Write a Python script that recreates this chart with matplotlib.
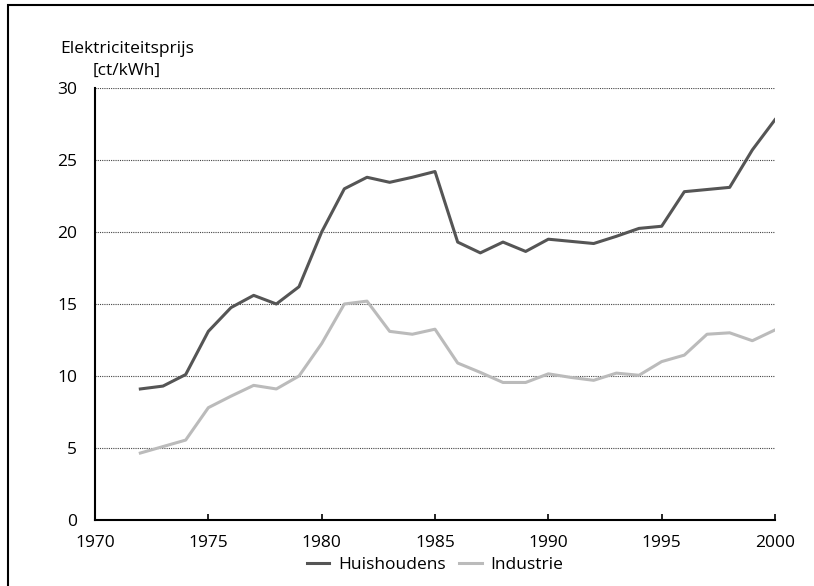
import matplotlib.pyplot as plt
from matplotlib.patches import Rectangle

years = list(range(1972, 2001))
huishoudens = [9.1, 9.3, 10.1, 13.1, 14.75, 15.6, 15.0, 16.2, 20.0, 23.0,
               23.8, 23.45, 23.8, 24.2, 19.3, 18.55, 19.3, 18.65, 19.5, 19.35,
               19.2, 19.7, 20.25, 20.4, 22.8, 22.95, 23.1, 25.7, 27.8]
industrie = [4.65, 5.1, 5.55, 7.8, 8.6, 9.35, 9.1, 10.0, 12.25, 15.0,
             15.2, 13.1, 12.9, 13.25, 10.9, 10.25, 9.55, 9.55, 10.15, 9.9,
             9.7, 10.2, 10.05, 11.0, 11.45, 12.9, 13.0, 12.45, 13.2]

plt.rcParams['font.family'] = ['Open Sans', 'DejaVu Sans']

W, H = 814, 586
fig = plt.figure(figsize=(W / 100, H / 100), dpi=100)
ax = fig.add_axes([95 / W, 1 - 520 / H, 680 / W, 432 / H])

ax.plot(years, huishoudens, color="#555555", linewidth=2.2, label="Huishoudens")
ax.plot(years, industrie, color="#bbbbbb", linewidth=2.2, label="Industrie")

ax.set_xlim(1970, 2000)
ax.set_ylim(0, 30)
ax.set_xticks(range(1970, 2001, 5))
ax.set_yticks(range(0, 31, 5))
ax.yaxis.grid(True, linestyle=(0, (1, 1)), color="#444444", linewidth=0.8)
ax.set_axisbelow(True)
for s in ["top", "right"]:
    ax.spines[s].set_visible(False)
for s in ["left", "bottom"]:
    ax.spines[s].set_linewidth(1.5)
ax.tick_params(axis="y", length=0, labelsize=12.5, pad=13)
ax.tick_params(axis="x", direction="in", length=4, width=1.2, labelsize=12.5, pad=11)

fig.text(127 / W, 1 - 60 / H, "Elektriciteitsprijs\n[ct/kWh]", ha="center", va="center",
         fontsize=12.5, linespacing=1.45)

ax.legend(loc="upper center", bbox_to_anchor=(0.5, -0.07), ncol=2, frameon=False,
          fontsize=12.5, handlelength=1.3, handletextpad=0.5, columnspacing=0.8,
          borderaxespad=0)

fig.patches.append(Rectangle((8 / W, -0.1), 1.2, 1 - 5 / H + 0.1, transform=fig.transFigure,
                             fill=False, edgecolor="black", linewidth=1.5))

plt.savefig("out.png", dpi=100)
